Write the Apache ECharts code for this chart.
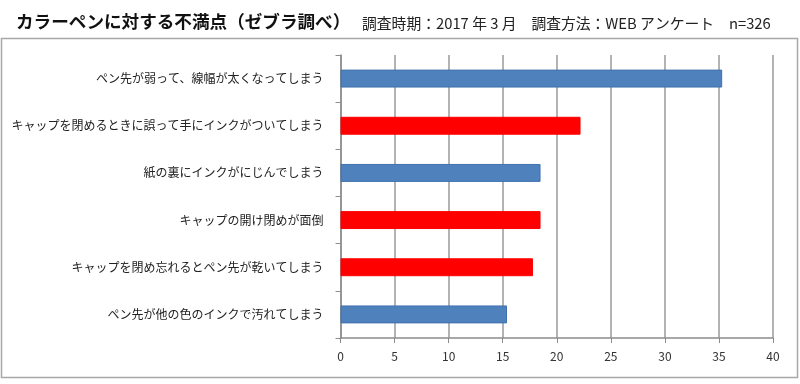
<!DOCTYPE html>
<html><head><meta charset="utf-8">
<script src="https://cdn.jsdelivr.net/npm/echarts@6/dist/echarts.min.js"></script>
<style>html,body{margin:0;padding:0;background:#fff}#c{width:800px;height:384px}</style>
</head><body><div id="c"></div>
<script>
const titleText = "カラーペンに対する不満点（ゼブラ調べ）";
const subText = "調査時期：2017 年 3 月　調査方法：WEB アンケート　n=326";
const categories = [
  "ペン先が弱って、線幅が太くなってしまう",
  "キャップを閉めるときに誤って手にインクがついてしまう",
  "紙の裏にインクがにじんでしまう",
  "キャップの開け閉めが面倒",
  "キャップを閉め忘れるとペン先が乾いてしまう",
  "ペン先が他の色のインクで汚れてしまう"
];
const values = [35.3, 22.2, 18.5, 18.5, 17.8, 15.4];
const groups = ["pen", "cap", "pen", "cap", "cap", "pen"];
const xTicks = [0, 5, 10, 15, 20, 25, 30, 35, 40];

const colorMap = { pen: "#4f81bd", cap: "#ff0000" };
const borderMap = { pen: "#3f71ad", cap: "#ff0000" };
const font = '"Noto Sans CJK JP", sans-serif';

const chart = echarts.init(document.getElementById('c'), null, { renderer: 'canvas' });
chart.setOption({
  animation: false,
  backgroundColor: '#fff',
  title: [
    { text: titleText, left: 11, top: 8, textStyle: { fontFamily: font, fontSize: 17.6, fontWeight: 'bold', color: '#111' } },
    { text: subText, left: 357, top: 11, textStyle: { fontFamily: font, fontSize: 14.8, fontWeight: 'normal', color: '#222' } }
  ],
  graphic: [
    { type: 'rect', shape: { x: 1.5, y: 38.5, width: 796, height: 339 }, style: { fill: 'none', stroke: '#a8a8a8', lineWidth: 1.5 }, z: -1 }
  ],
  grid: { left: 340.5, right: 27, top: 55, bottom: 46, outerBoundsMode: 'none', containLabel: false },
  xAxis: {
    type: 'value', min: xTicks[0], max: xTicks[xTicks.length - 1], interval: 5,
    axisLine: { show: true, lineStyle: { color: '#8c8c8c', width: 1.5 } },
    axisTick: { show: true, length: 5, lineStyle: { color: '#8c8c8c' } },
    axisLabel: { color: '#333', fontFamily: font, fontSize: 12, margin: 12 },
    splitLine: { show: true, lineStyle: { color: '#9a9a9a', width: 1.5 } }
  },
  yAxis: {
    type: 'category', data: categories, inverse: true,
    axisLine: { show: true, lineStyle: { color: '#8c8c8c', width: 1.5 } },
    axisTick: { show: true, length: 5, lineStyle: { color: '#8c8c8c' } },
    axisLabel: { color: '#222', fontFamily: font, fontSize: 12, margin: 17 },
    splitLine: { show: false }
  },
  series: [{
    type: 'bar',
    barWidth: '38%',
    data: values.map((v, i) => ({
      value: v,
      itemStyle: { color: colorMap[groups[i]], borderColor: borderMap[groups[i]], borderWidth: 1 }
    }))
  }]
});
</script>
</body></html>
